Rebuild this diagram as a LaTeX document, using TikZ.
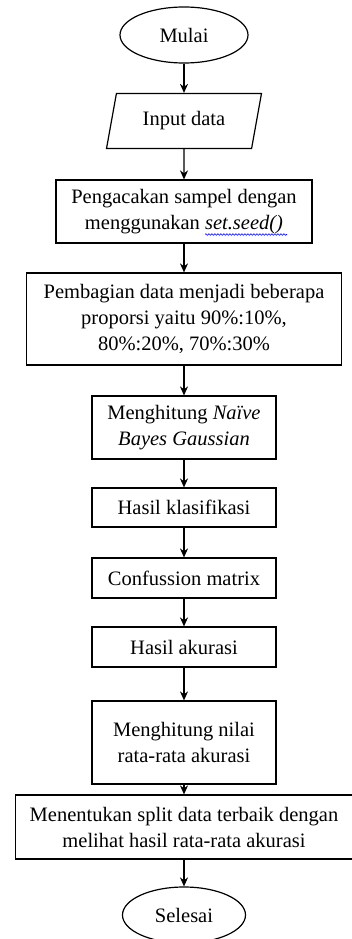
\documentclass[tikz,border=0pt]{standalone}
\usepackage{fontspec}
\setmainfont{Liberation Serif}
\usetikzlibrary{shapes,shapes.geometric,arrows,arrows.meta,positioning,decorations.pathmorphing}

\begin{document}
\begin{tikzpicture}[%
    >={Stealth[length=9pt, width=8pt]},
    on grid,
    x=1pt, y=1pt,
    font=\fontsize{20.5}{26}\selectfont,
    base/.style={draw, line width=1.2pt, align=center, inner sep=0pt},
    term/.style={base, ellipse, minimum width=128pt, minimum height=56pt},
    io/.style={base, trapezium, trapezium left angle=72, trapezium right angle=108,
      trapezium stretches=true, minimum width=156pt, minimum height=55pt},
    proc/.style={base, rectangle, minimum width=184pt, minimum height=40pt},
    squiggle/.style={blue, line width=0.6pt, decorate,
      decoration={snake, amplitude=0.8pt, segment length=3pt}}
  ]
  \useasboundingbox (0,0) rectangle (351,-939);

  \node[term] (mulai) at (184,-35) {Mulai};
  \node[io] (input) [below=86pt of mulai] {Input data};
  \node[proc, minimum width=256pt, minimum height=63pt] (acak) [below=90.5pt of input]
    {Pengacakan sampel dengan\\menggunakan \textit{set.seed()}};
  \node[proc, minimum width=315pt, minimum height=92pt] (bagi) [below=107.5pt of acak]
    {Pembagian data menjadi beberapa\\proporsi yaitu 90\%:10\%,\\80\%:20\%, 70\%:30\%};
  \node[proc, minimum height=63pt] (hitung) [below=108.5pt of bagi]
    {Menghitung \textit{Naïve}\\\textit{Bayes Gaussian}};
  \node[proc, minimum height=39pt] (hasil) [below=80pt of hitung] {Hasil klasifikasi};
  \node[proc] (matrix) [below=70.5pt of hasil] {Confussion matrix};
  \node[proc] (akurasi) [below=69pt of matrix] {Hasil akurasi};
  \node[proc, minimum height=83pt] (rerata) [below=95.5pt of akurasi]
    {Menghitung nilai\\rata-rata akurasi};
  \node[proc, minimum width=337pt, minimum height=64pt] (terbaik) [below=84.5pt of rerata]
    {Menentukan split data terbaik dengan\\melihat hasil rata-rata akurasi};
  \node[term, minimum width=123pt] (selesai) [below=88pt of terbaik] {Selesai};

  % spell-check squiggle under set.seed()
  \draw[squiggle] ([shift={(21,-23)}]acak.center) -- ++(82,0);

  \path[->] (mulai) edge [line width=1.2pt] (input);
  \path[->] (input) edge [line width=1.2pt] (acak);
  \path[->] (acak) edge [line width=1.2pt] (bagi);
  \path[->] (bagi) edge [line width=1.2pt] (hitung);
  \path[->] (hitung) edge [line width=1.2pt] (hasil);
  \path[->] (hasil) edge [line width=1.2pt] (matrix);
  \path[->] (matrix) edge [line width=1.2pt] (akurasi);
  \path[->] (akurasi) edge [line width=1.2pt] (rerata);
  \path[->] (rerata) edge [line width=1.2pt] (terbaik);
  \path[->] (terbaik) edge [line width=1.2pt] (selesai);

\end{tikzpicture}
\end{document}
